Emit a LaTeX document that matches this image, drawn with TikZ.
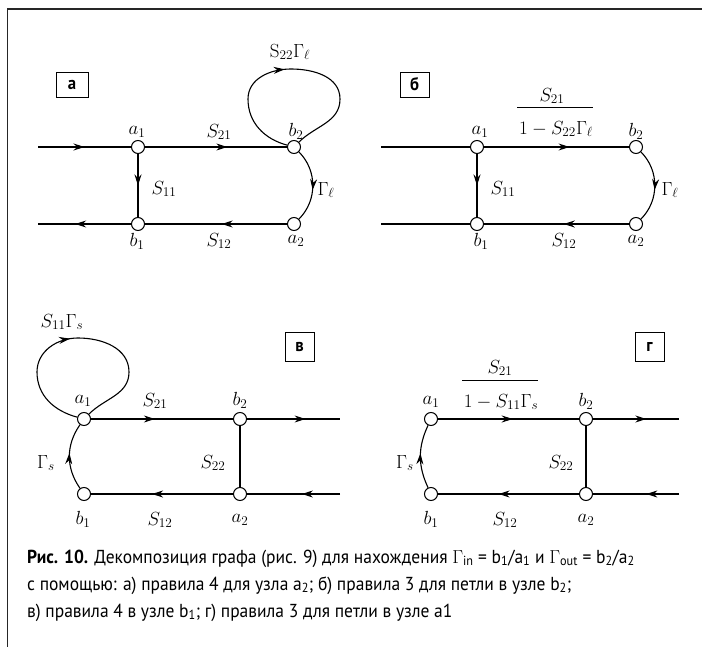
\RequirePackage{fix-cm}
\documentclass[tikz,border=0pt]{standalone}
\usepackage[no-math]{fontspec}
\usepackage{amsmath}
\newfontfamily\capfont[FakeStretch=0.93]{PT Sans}
\usetikzlibrary{arrows.meta,decorations.markings}
\begin{document}
\begin{tikzpicture}[x=1pt,y=-1pt,
  every node/.style={inner sep=0pt},
  nd/.style={circle,draw,fill=white,minimum size=13pt,line width=1pt},
  ln/.style={line width=1.1pt},
  marr/.style={postaction={decorate,decoration={markings,mark=at position #1 with {\arrow{Stealth[length=11pt,width=7pt]}}}}},
  lab/.style={font=\fontsize{19}{22}\selectfont},
  boxl/.style={draw,line width=0.8pt,font=\capfont\bfseries\fontsize{18}{20}\selectfont},
  capt/.style={anchor=base west,font=\capfont\fontsize{18.8}{23}\selectfont}
]
\useasboundingbox (0,0) rectangle (702,647);
% frame
\coordinate (F1) at (7.5,647);
\coordinate (F2) at (7.5,9);
\coordinate (F3) at (702,9);
\draw[line width=1.8pt,black!85] (F1) -- (F2) -- (F3);

% ---------- panel a ----------
\node[boxl,minimum width=32pt,minimum height=25pt] (boxA) at (72,84.5) {а};
\node[nd] (A1) at (138,147) {};
\node[nd] (B1) at (138,224) {};
\node[nd] (B2) at (294,147) {};
\node[nd] (A2) at (294,224) {};
\coordinate (Ain) at (38,147);
\coordinate (Aout) at (38,224);
\draw[ln,marr=0.5] (Ain) -- (A1);
\draw[ln,marr=0.58] (A1) -- (B2);
\draw[ln,marr=0.5] (A1) -- (B1);
\draw[ln,marr=0.46] (A2) -- (B1);
\draw[ln,marr=0.6] (B1) -- (Aout);
\draw[ln,marr=0.56] (B2) to[out=-45,in=45] (A2);
\draw[ln,marr=0.47] (B2) to[out=165,in=-90] (248,99) to[out=90,in=180] (291,69) to[out=0,in=90] (340,99) to[out=-90,in=45] (B2);
\node[lab] (tA1) at (137,132) {$a_1$};
\node[lab] (tAS21) at (219,132) {$S_{21}$};
\node[lab] (tAb2) at (296,131) {$b_2$};
\node[lab] (tAS11) at (164,189) {$S_{11}$};
\node[lab] (tAG) at (326,190) {$\Gamma_\ell$};
\node[lab] (tAb1) at (137,241) {$b_1$};
\node[lab] (tAS12) at (219,241) {$S_{12}$};
\node[lab] (tAa2) at (296,241) {$a_2$};
\node[lab] (tAloop) at (290,52) {$\mathrm{S}_{22}\Gamma_\ell$};

% ---------- panel b ----------
\node[boxl,minimum width=29pt,minimum height=25pt] (boxB) at (414.5,84.5) {б};
\node[nd] (Ba1) at (477,147) {};
\node[nd] (Bb1) at (477,224) {};
\node[nd] (Bb2) at (636,147) {};
\node[nd] (Ba2) at (636,224) {};
\coordinate (Bin) at (381,147);
\coordinate (Bout) at (381,224);
\draw[ln] (Bin) -- (Ba1);
\draw[ln] (Bb1) -- (Bout);
\draw[ln,marr=0.59] (Ba1) -- (Bb2);
\draw[ln,marr=0.5] (Ba1) -- (Bb1);
\draw[ln,marr=0.45] (Ba2) -- (Bb1);
\draw[ln,marr=0.56] (Bb2) to[out=-45,in=45] (Ba2);
\node[lab] (tBa1) at (480,132) {$a_1$};
\node[lab] (tBb2) at (636,131) {$b_2$};
\node[lab] (tBS11) at (503,189) {$S_{11}$};
\node[lab] (tBG) at (670,190) {$\Gamma_\ell$};
\node[lab] (tBb1) at (481,241) {$b_1$};
\node[lab] (tBS12) at (564,241) {$S_{12}$};
\node[lab] (tBa2) at (636,241) {$a_2$};
\node[lab] (tBnum) at (552,96) {$S_{21}$};
\node[lab] (tBden) at (556,129) {$1-S_{22}\Gamma_\ell$};
\draw[line width=0.8pt] (517,107) -- (593,107);

% ---------- panel v ----------
\node[boxl,minimum width=29pt,minimum height=29pt] (boxV) at (299.5,346.5) {в};
\node[nd] (Va1) at (84,419) {};
\node[nd] (Vb1) at (84,494) {};
\node[nd] (Vb2) at (240,419) {};
\node[nd] (Va2) at (240,494) {};
\coordinate (Vout) at (340,419);
\coordinate (Vin) at (340,494);
\draw[ln,marr=0.45] (Va1) -- (Vb2);
\draw[ln,marr=0.63] (Vb2) -- (Vout);
\draw[ln,marr=0.41] (Vin) -- (Va2);
\draw[ln,marr=0.57] (Va2) -- (Vb1);
\draw[ln] (Vb2) -- (Va2);
\draw[ln,marr=0.55] (Vb1) to[out=125,in=-125] (Va1);
\draw[ln,marr=0.46] (Va1) to[out=165,in=-90] (37,372) to[out=90,in=180] (78,338) to[out=0,in=90] (129,372) to[out=-90,in=45] (Va1);
\node[lab] (tVloop) at (62,322) {$S_{11}\Gamma_s$};
\node[lab] (tVa1) at (83,401) {$a_1$};
\node[lab] (tVS21) at (155,401) {$S_{21}$};
\node[lab] (tVb2) at (240,400) {$b_2$};
\node[lab] (tVG) at (46,463) {$\Gamma_s$};
\node[lab] (tVS22) at (213,463) {$S_{22}$};
\node[lab] (tVb1) at (83,519) {$b_1$};
\node[lab] (tVS12) at (160,520) {$S_{12}$};
\node[lab] (tVa2) at (240,520) {$a_2$};

% ---------- panel g ----------
\node[boxl,minimum width=29pt,minimum height=29pt] (boxG) at (649.5,346.5) {г};
\node[nd] (Ga1) at (431,419) {};
\node[nd] (Gb1) at (431,494) {};
\node[nd] (Gb2) at (586,419) {};
\node[nd] (Ga2) at (586,494) {};
\coordinate (Gout) at (679,419);
\coordinate (Gin) at (679,494);
\draw[ln,marr=0.53] (Ga1) -- (Gb2);
\draw[ln,marr=0.62] (Gb2) -- (Gout);
\draw[ln,marr=0.38] (Gin) -- (Ga2);
\draw[ln,marr=0.57] (Ga2) -- (Gb1);
\draw[ln] (Gb2) -- (Ga2);
\draw[ln,marr=0.55] (Gb1) to[out=115,in=-115] (Ga1);
\node[lab] (tGa1) at (431,402) {$a_1$};
\node[lab] (tGb2) at (586,401) {$b_2$};
\node[lab] (tGG) at (405,463) {$\Gamma_s$};
\node[lab] (tGS22) at (561,463) {$S_{22}$};
\node[lab] (tGb1) at (431,519) {$b_1$};
\node[lab] (tGS12) at (505,520) {$S_{12}$};
\node[lab] (tGa2) at (586,520) {$a_2$};
\node[lab] (tGnum) at (500,368) {$S_{21}$};
\node[lab] (tGden) at (501,402) {$1-S_{11}\Gamma_s$};
\draw[line width=0.8pt] (462,380) -- (538,380);

% ---------- caption ----------
\node[capt] (cap1) at (27,563) {\textbf{Рис. 10.} Декомпозиция графа (рис. 9) для нахождения $\Gamma_{\text{in}}$ = b\textsubscript{1}/a\textsubscript{1} и $\Gamma_{\text{out}}$ = b\textsubscript{2}/a\textsubscript{2}};
\node[capt] (cap2) at (27,590) {с помощью: а) правила 4 для узла a\textsubscript{2}; б) правила 3 для петли в узле b\textsubscript{2};};
\node[capt] (cap3) at (27,617) {в) правила 4 в узле b\textsubscript{1}; г) правила 3 для петли в узле а1};
\end{tikzpicture}
\end{document}
